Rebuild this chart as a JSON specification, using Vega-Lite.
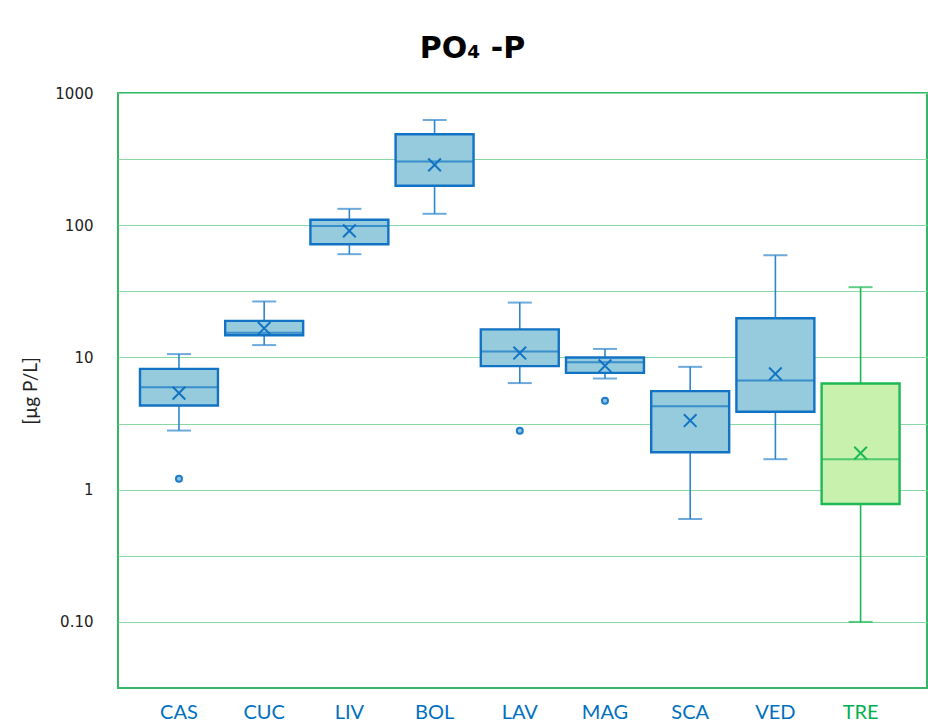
{
  "$schema": "https://vega.github.io/schema/vega-lite/v6.json",
  "width": 809,
  "height": 595,
  "autosize": "none",
  "padding": {"left": 118, "top": 93, "right": 1, "bottom": 38},
  "background": "white",
  "title": {
    "text": "PO₄ -P",
    "font": "DejaVu Sans",
    "fontSize": 30,
    "fontWeight": "bold",
    "color": "#000000",
    "anchor": "middle",
    "dx": -50,
    "offset": 22
  },
  "datasets": {
    "boxes": [
      {"cat": "CAS", "lower": 2.80, "q1": 4.33, "median": 5.96, "q3": 8.2, "upper": 10.6, "mean": 5.37},
      {"cat": "CUC", "lower": 12.4, "q1": 14.7, "median": 15.4, "q3": 18.9, "upper": 26.5, "mean": 16.6},
      {"cat": "LIV", "lower": 60.4, "q1": 71.8, "median": 98.8, "q3": 110, "upper": 133, "mean": 90.6},
      {"cat": "BOL", "lower": 122, "q1": 199, "median": 303, "q3": 488, "upper": 625, "mean": 286},
      {"cat": "LAV", "lower": 6.4, "q1": 8.6, "median": 11.1, "q3": 16.3, "upper": 26, "mean": 10.8},
      {"cat": "MAG", "lower": 6.93, "q1": 7.65, "median": 9.2, "q3": 10.0, "upper": 11.6, "mean": 8.64},
      {"cat": "SCA", "lower": 0.60, "q1": 1.92, "median": 4.28, "q3": 5.56, "upper": 8.49, "mean": 3.33},
      {"cat": "VED", "lower": 1.70, "q1": 3.88, "median": 6.69, "q3": 19.8, "upper": 59.3, "mean": 7.52},
      {"cat": "TRE", "lower": 0.10, "q1": 0.78, "median": 1.70, "q3": 6.35, "upper": 34, "mean": 1.89}
    ],
    "outliers": [
      {"cat": "CAS", "value": 1.21},
      {"cat": "LAV", "value": 2.79},
      {"cat": "MAG", "value": 4.7}
    ]
  },
  "data": {"name": "boxes"},
  "encoding": {
    "x": {
      "field": "cat",
      "type": "nominal",
      "sort": ["CAS", "CUC", "LIV", "BOL", "LAV", "MAG", "SCA", "VED", "TRE"],
      "scale": {"paddingInner": 0.085, "paddingOuter": 0.29, "align": 0.445},
      "axis": {
        "title": null,
        "domain": false,
        "ticks": false,
        "grid": false,
        "labelAngle": 0,
        "labelFont": "Lato",
        "labelFontSize": 20,
        "labelPadding": 14,
        "labelColor": {"condition": {"test": "datum.value === 'TRE'", "value": "#00B050"}, "value": "#0070C0"}
      }
    }
  },
  "layer": [
    {
      "mark": {"type": "rule", "strokeWidth": 1.6},
      "encoding": {
        "y": {
          "field": "lower",
          "type": "quantitative",
          "title": "[µg P/L]",
          "scale": {"type": "log", "domain": [0.0316228, 1000], "nice": false},
          "axis": {
            "values": [0.1, 0.316228, 1, 3.16228, 10, 31.6228, 100, 316.228, 1000],
            "labelExpr": "datum.value === 0.1 ? '0.10' : (datum.value === 1 || datum.value === 10 || datum.value === 100 || datum.value === 1000) ? format(datum.value, 'd') : ''",
            "grid": true,
            "gridColor": "#88D9A6",
            "gridWidth": 1.2,
            "domain": false,
            "ticks": false,
            "labelFont": "DejaVu Sans",
            "labelFontSize": 15,
            "labelColor": "#222222",
            "labelPadding": 25,
            "titleFont": "Lato",
            "titleFontSize": 19,
            "titleFontWeight": "normal",
            "titleColor": "#222222",
            "titlePadding": 14
          }
        },
        "y2": {"field": "upper"},
        "color": {"condition": {"test": "datum.cat === 'TRE'", "value": "#1DB954"}, "value": "#2F86CC"}
      }
    },
    {
      "mark": {"type": "tick", "size": 24, "thickness": 2},
      "encoding": {
        "y": {"field": "lower", "type": "quantitative", "title": "[µg P/L]"},
        "color": {"condition": {"test": "datum.cat === 'TRE'", "value": "#1DB954"}, "value": "#2F86CC"}
      }
    },
    {
      "mark": {"type": "tick", "size": 24, "thickness": 2},
      "encoding": {
        "y": {"field": "upper", "type": "quantitative", "title": "[µg P/L]"},
        "color": {"condition": {"test": "datum.cat === 'TRE'", "value": "#1DB954"}, "value": "#2F86CC"}
      }
    },
    {
      "mark": {"type": "bar", "strokeWidth": 2.4},
      "encoding": {
        "y": {"field": "q1", "type": "quantitative", "title": "[µg P/L]"},
        "y2": {"field": "q3"},
        "fill": {"condition": {"test": "datum.cat === 'TRE'", "value": "#C8F1AE"}, "value": "#95CBDC"},
        "stroke": {"condition": {"test": "datum.cat === 'TRE'", "value": "#1DB954"}, "value": "#1273C4"}
      }
    },
    {
      "mark": {"type": "tick", "thickness": 2},
      "encoding": {
        "y": {"field": "median", "type": "quantitative", "title": "[µg P/L]"},
        "size": {"value": 78},
        "color": {"condition": {"test": "datum.cat === 'TRE'", "value": "#1DB954"}, "value": "#1273C4"}
      }
    },
    {
      "mark": {"type": "point", "shape": "M-1,-1L1,1M-1,1L1,-1", "filled": false, "strokeWidth": 2, "opacity": 1},
      "encoding": {
        "y": {"field": "mean", "type": "quantitative", "title": "[µg P/L]"},
        "size": {"value": 160},
        "color": {"condition": {"test": "datum.cat === 'TRE'", "value": "#1DB954"}, "value": "#1273C4"}
      }
    },
    {
      "data": {"name": "outliers"},
      "mark": {"type": "point", "shape": "circle", "filled": true, "strokeWidth": 2, "opacity": 1, "fill": "#8CC6E2", "stroke": "#1F7CC8"},
      "encoding": {
        "y": {"field": "value", "type": "quantitative", "title": "[µg P/L]"},
        "size": {"value": 36}
      }
    }
  ],
  "config": {
    "view": {"stroke": "#35B865", "strokeWidth": 2}
  }
}
